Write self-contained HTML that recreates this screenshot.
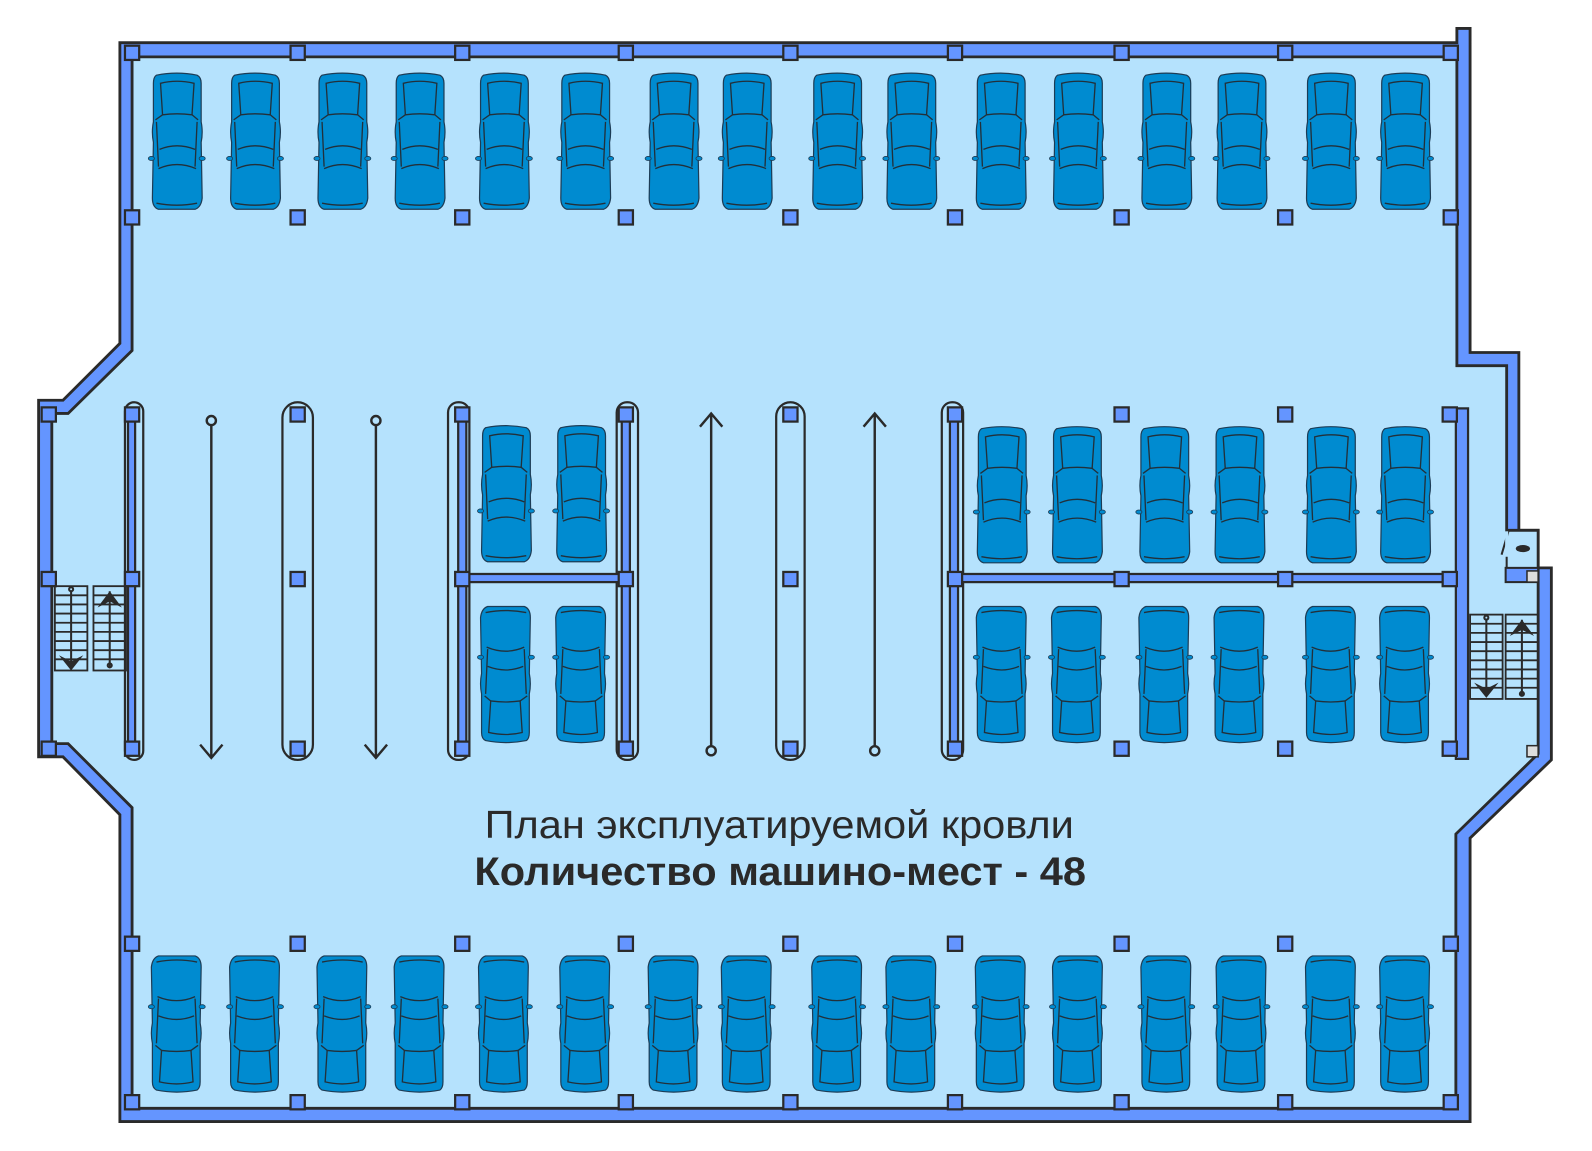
<!DOCTYPE html>
<html><head><meta charset="utf-8"><style>html,body{margin:0;padding:0;background:#fff}svg{display:block}</style></head><body>
<svg width="1592" height="1151" viewBox="0 0 1567 1133" preserveAspectRatio="none" xmlns="http://www.w3.org/2000/svg" xmlns:xlink="http://www.w3.org/1999/xlink">
<defs>
<g id="c"><rect x="-7" y="-7" width="14" height="14" fill="#6495ff" stroke="#2a2a2a" stroke-width="2.2"/></g>
<g id="car">
<path d="M6,4 Q26,0 46,4 Q50,6 50,12 L50,50 Q52,60 50,70 L51,125 Q50,134 44,136 L8,136 Q2,134 2,125 L3,70 Q1,60 3,50 L3,12 Q3,6 6,4Z" fill="#008bd0" stroke="#1d3c55" stroke-width="1.2"/>
<path d="M10,12 Q26,8 43,12 L41,43 Q26,41 12,43 Z" fill="none" stroke="#22303a" stroke-width="1.3"/>
<path d="M5,48 L12,43 M47,48 L41,43 M6,50 L8,94 M46,50 L44,94 M9,77 Q26,70 44,77 M8,96 Q26,88 45,96 M6,130 Q26,134 46,130" fill="none" stroke="#22303a" stroke-width="1.3"/>
<ellipse cx="1" cy="86" rx="3" ry="2" fill="#008bd0" stroke="#1d3c55" stroke-width="0.8"/>
<ellipse cx="51" cy="86" rx="3" ry="2" fill="#008bd0" stroke="#1d3c55" stroke-width="0.8"/>
</g>
<g id="stair" fill="none" stroke="#2a2a2a" stroke-width="1.8">
<rect x="0" y="0" width="32" height="83"/>
<path d="M0,9H32M0,18H32M0,27H32M0,36H32M0,45H32M0,54H32M0,63H32M0,72H32"/>
</g>
</defs>
<polygon points="118,42 1434,42 1434,28 1447,28 1447,347 1495,347 1495,522 1514,522 1514,559 1527,559 1527,748 1447,825 1447,1104 118,1104 118,802 62,745 38,745 38,394 62,394 118,338" fill="#6495ff" stroke="#2a2a2a" stroke-width="2.8"/>
<polygon points="130,56 1434,56 1434,360 1483,360 1483,522 1514,522 1514,742 1433,821 1433,1091 130,1091 130,795 67,732 51,732 51,407 67,407 130,345" fill="#b5e2fd" stroke="#2a2a2a" stroke-width="2.8"/>
<rect x="1482" y="559" width="32" height="14" fill="#6495ff" stroke="#2a2a2a" stroke-width="2"/>
<path d="M1483,522 L1514,522 M1483,548 L1483,559 M1478,546 L1485,522" stroke="#2a2a2a" stroke-width="2" fill="none"/>
<line x1="1483" y1="523" x2="1483" y2="540" stroke="#b5e2fd" stroke-width="3"/>
<ellipse cx="1499" cy="540" rx="7" ry="3.5" fill="#2a2a2a"/>
<rect x="1503" y="562" width="11" height="11" fill="#ddd" stroke="#2a2a2a" stroke-width="1.5"/>
<rect x="1503" y="734" width="11" height="11" fill="#ddd" stroke="#2a2a2a" stroke-width="1.5"/>
<rect x="1433" y="402" width="12" height="345" fill="#6495ff" stroke="#2a2a2a" stroke-width="2.2"/>
<g fill="none" stroke="#2a2a2a" stroke-width="2.2">
<rect x="123" y="396" width="18" height="352" rx="9"/>
<rect x="278" y="396" width="30" height="352" rx="15"/>
<rect x="441" y="396" width="21" height="352" rx="10"/>
<rect x="607" y="396" width="21" height="352" rx="10"/>
<rect x="764" y="396" width="28" height="352" rx="14"/>
<rect x="927" y="396" width="21" height="352" rx="10"/>
</g>
<g fill="#6495ff" stroke="#2a2a2a" stroke-width="2.2">
<rect x="126" y="404" width="7" height="336"/>
<rect x="451" y="404" width="8" height="336"/>
<rect x="612" y="404" width="8" height="336"/>
<rect x="935" y="404" width="8" height="336"/>
<rect x="455" y="565" width="161" height="8"/>
<rect x="940" y="565" width="490" height="8"/>
</g>
<g>
<use xlink:href="#c" x="130" y="52"/><use xlink:href="#c" x="293" y="52"/><use xlink:href="#c" x="455" y="52"/><use xlink:href="#c" x="616" y="52"/><use xlink:href="#c" x="778" y="52"/><use xlink:href="#c" x="940" y="52"/><use xlink:href="#c" x="1104" y="52"/><use xlink:href="#c" x="1265" y="52"/><use xlink:href="#c" x="1428" y="52"/>
<use xlink:href="#c" x="130" y="214"/><use xlink:href="#c" x="293" y="214"/><use xlink:href="#c" x="455" y="214"/><use xlink:href="#c" x="616" y="214"/><use xlink:href="#c" x="778" y="214"/><use xlink:href="#c" x="940" y="214"/><use xlink:href="#c" x="1104" y="214"/><use xlink:href="#c" x="1265" y="214"/><use xlink:href="#c" x="1428" y="214"/>
<use xlink:href="#c" x="130" y="929"/><use xlink:href="#c" x="293" y="929"/><use xlink:href="#c" x="455" y="929"/><use xlink:href="#c" x="616" y="929"/><use xlink:href="#c" x="778" y="929"/><use xlink:href="#c" x="940" y="929"/><use xlink:href="#c" x="1104" y="929"/><use xlink:href="#c" x="1265" y="929"/><use xlink:href="#c" x="1428" y="929"/>
<use xlink:href="#c" x="130" y="1085"/><use xlink:href="#c" x="293" y="1085"/><use xlink:href="#c" x="455" y="1085"/><use xlink:href="#c" x="616" y="1085"/><use xlink:href="#c" x="778" y="1085"/><use xlink:href="#c" x="940" y="1085"/><use xlink:href="#c" x="1104" y="1085"/><use xlink:href="#c" x="1265" y="1085"/><use xlink:href="#c" x="1428" y="1085"/>
<use xlink:href="#c" x="48" y="408"/><use xlink:href="#c" x="48" y="570"/><use xlink:href="#c" x="48" y="737"/>
<use xlink:href="#c" x="130" y="408"/><use xlink:href="#c" x="130" y="570"/><use xlink:href="#c" x="130" y="737"/>
<use xlink:href="#c" x="293" y="408"/><use xlink:href="#c" x="293" y="570"/><use xlink:href="#c" x="293" y="737"/>
<use xlink:href="#c" x="455" y="408"/><use xlink:href="#c" x="455" y="570"/><use xlink:href="#c" x="455" y="737"/>
<use xlink:href="#c" x="616" y="408"/><use xlink:href="#c" x="616" y="570"/><use xlink:href="#c" x="616" y="737"/>
<use xlink:href="#c" x="778" y="408"/><use xlink:href="#c" x="778" y="570"/><use xlink:href="#c" x="778" y="737"/>
<use xlink:href="#c" x="940" y="408"/><use xlink:href="#c" x="940" y="570"/><use xlink:href="#c" x="940" y="737"/>
<use xlink:href="#c" x="1104" y="408"/><use xlink:href="#c" x="1104" y="570"/><use xlink:href="#c" x="1104" y="737"/>
<use xlink:href="#c" x="1265" y="408"/><use xlink:href="#c" x="1265" y="570"/><use xlink:href="#c" x="1265" y="737"/>
<use xlink:href="#c" x="1427" y="408"/><use xlink:href="#c" x="1427" y="570"/><use xlink:href="#c" x="1427" y="737"/>
</g>
<g fill="none" stroke="#2a2a2a" stroke-width="2.4">
<circle cx="208" cy="414" r="4.5" fill="#b5e2fd"/><path d="M208,419V746M197,733L208,746L219,733"/>
<circle cx="370" cy="414" r="4.5" fill="#b5e2fd"/><path d="M370,419V746M359,733L370,746L381,733"/>
<circle cx="700" cy="739" r="4.5" fill="#b5e2fd"/><path d="M700,734V407M689,420L700,407L711,420"/>
<circle cx="861" cy="739" r="4.5" fill="#b5e2fd"/><path d="M861,734V407M850,420L861,407L872,420"/>
</g>
<use xlink:href="#stair" x="54" y="577"/><use xlink:href="#stair" x="92" y="577"/>
<use xlink:href="#stair" x="1447" y="605"/><use xlink:href="#stair" x="1482" y="605"/>
<g fill="none" stroke="#2a2a2a" stroke-width="2">
<path d="M70,582V657M108,582V657M1463,610V685M1498,610V685"/>
<circle cx="70" cy="580" r="2"/><circle cx="108" cy="655" r="2"/>
<circle cx="1463" cy="608" r="2"/><circle cx="1498" cy="683" r="2"/>
</g>
<g fill="#2a2a2a">
<path d="M58,645L70,660L82,645L70,651Z"/><path d="M96,598L108,582L120,598L108,592Z"/>
<path d="M1451,672L1463,687L1475,672L1463,678Z"/><path d="M1486,626L1498,610L1510,626L1498,620Z"/>
</g>
<g>
<use xlink:href="#car" x="148" y="70"/><use xlink:href="#car" x="225" y="70"/><use xlink:href="#car" x="311" y="70"/><use xlink:href="#car" x="387" y="70"/><use xlink:href="#car" x="470" y="70"/><use xlink:href="#car" x="550" y="70"/><use xlink:href="#car" x="637" y="70"/><use xlink:href="#car" x="709" y="70"/><use xlink:href="#car" x="798" y="70"/><use xlink:href="#car" x="871" y="70"/><use xlink:href="#car" x="959" y="70"/><use xlink:href="#car" x="1035" y="70"/><use xlink:href="#car" x="1122" y="70"/><use xlink:href="#car" x="1196" y="70"/><use xlink:href="#car" x="1284" y="70"/><use xlink:href="#car" x="1357" y="70"/>
<use xlink:href="#car" x="472" y="417"/><use xlink:href="#car" x="546" y="417"/><use xlink:href="#car" x="960" y="418"/><use xlink:href="#car" x="1034" y="418"/><use xlink:href="#car" x="1120" y="418"/><use xlink:href="#car" x="1194" y="418"/><use xlink:href="#car" x="1284" y="418"/><use xlink:href="#car" x="1357" y="418"/>
</g>
<g>
<use xlink:href="#car" transform="translate(524,733) rotate(180)"/><use xlink:href="#car" transform="translate(598,733) rotate(180)"/><use xlink:href="#car" transform="translate(1012,733) rotate(180)"/><use xlink:href="#car" transform="translate(1086,733) rotate(180)"/><use xlink:href="#car" transform="translate(1172,733) rotate(180)"/><use xlink:href="#car" transform="translate(1246,733) rotate(180)"/><use xlink:href="#car" transform="translate(1336,733) rotate(180)"/><use xlink:href="#car" transform="translate(1409,733) rotate(180)"/>
<use xlink:href="#car" transform="translate(200,1077) rotate(180)"/><use xlink:href="#car" transform="translate(277,1077) rotate(180)"/><use xlink:href="#car" transform="translate(363,1077) rotate(180)"/><use xlink:href="#car" transform="translate(439,1077) rotate(180)"/><use xlink:href="#car" transform="translate(522,1077) rotate(180)"/><use xlink:href="#car" transform="translate(602,1077) rotate(180)"/><use xlink:href="#car" transform="translate(689,1077) rotate(180)"/><use xlink:href="#car" transform="translate(761,1077) rotate(180)"/><use xlink:href="#car" transform="translate(850,1077) rotate(180)"/><use xlink:href="#car" transform="translate(923,1077) rotate(180)"/><use xlink:href="#car" transform="translate(1011,1077) rotate(180)"/><use xlink:href="#car" transform="translate(1087,1077) rotate(180)"/><use xlink:href="#car" transform="translate(1174,1077) rotate(180)"/><use xlink:href="#car" transform="translate(1248,1077) rotate(180)"/><use xlink:href="#car" transform="translate(1336,1077) rotate(180)"/><use xlink:href="#car" transform="translate(1409,1077) rotate(180)"/>
</g>
<text x="477" y="825" font-family="Liberation Sans, sans-serif" font-size="38" fill="#2a2a2a" textLength="580" lengthAdjust="spacingAndGlyphs">План эксплуатируемой кровли</text>
<text x="467" y="871" font-family="Liberation Sans, sans-serif" font-size="39" font-weight="bold" fill="#2a2a2a" textLength="602" lengthAdjust="spacingAndGlyphs">Количество машино-мест - 48</text>
</svg>
</body></html>
